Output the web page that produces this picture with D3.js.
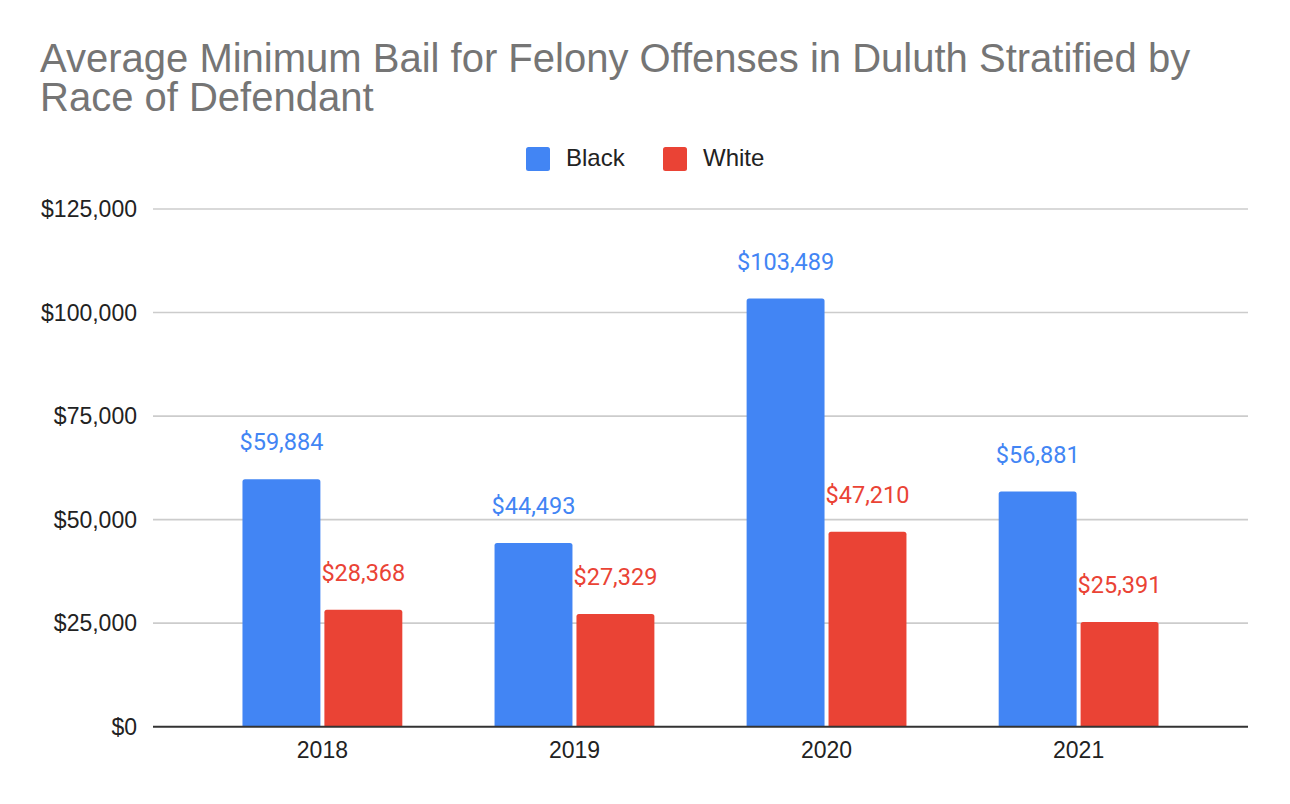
<!DOCTYPE html>
<html>
<head>
<meta charset="utf-8">
<script src="https://cdn.jsdelivr.net/npm/d3@7"></script>
<style>
  body { margin: 0; background: #fff; }
  svg { display: block; }
</style>
</head>
<body>
<svg id="chart" width="1290" height="804"></svg>
<script>
const years = ["2018", "2019", "2020", "2021"];
const series = ["Black", "White"];
const black = [59884, 44493, 103489, 56881];
const white = [28368, 27329, 47210, 25391];
const yTicks = [0, 25000, 50000, 75000, 100000, 125000];
const colors = ["#4285F4", "#EA4335"];
const titleLines = ["Average Minimum Bail for Felony Offenses in Duluth Stratified by", "Race of Defendant"];

const svg = d3.select("#chart");
const plotLeft = 153, plotRight = 1248, plotTop = 209, plotBottom = 726.7;

const x = d3.scaleBand().domain(years).range([plotLeft, plotRight])
  .paddingInner(0.35).paddingOuter(0.347);
const xs = d3.scaleBand().domain(series).range([0, x.bandwidth()]);
const y = d3.scaleLinear().domain([0, 125000]).range([plotBottom, plotTop]);

const fmt = d3.format("$,");

// title
svg.append("g")
  .selectAll("text")
  .data(titleLines)
  .join("text")
  .attr("x", 40)
  .attr("y", (d, i) => 71.7 + i * 39.3)
  .style("font-family", "'Liberation Sans', Arial, sans-serif")
  .style("font-size", "40px")
  .style("fill", "#757575")
  .text(d => d);

// legend
const legend = svg.append("g");
const legendX = [526, 663];
series.forEach((s, i) => {
  legend.append("rect")
    .attr("x", legendX[i]).attr("y", 147)
    .attr("width", 24).attr("height", 24).attr("rx", 2.5)
    .attr("fill", colors[i]);
  legend.append("text")
    .attr("x", legendX[i] + 40).attr("y", 166)
    .style("font-family", "'Liberation Sans', Arial, sans-serif")
    .style("font-size", "24px")
    .style("fill", "#222")
    .text(s);
});

// gridlines + y labels
svg.append("g")
  .selectAll("line")
  .data(yTicks.filter(d => d > 0))
  .join("line")
  .attr("x1", plotLeft).attr("x2", plotRight)
  .attr("y1", d => y(d)).attr("y2", d => y(d))
  .attr("stroke", "#cccccc").attr("stroke-width", 1.6);

svg.append("g")
  .selectAll("text")
  .data(yTicks)
  .join("text")
  .attr("x", 137)
  .attr("y", d => y(d))
  .attr("dy", "0.36em")
  .attr("text-anchor", "end")
  .style("font-family", "'Liberation Sans', Arial, sans-serif")
  .style("font-size", "23px")
  .style("fill", "#222")
  .text(d => fmt(d));

// bars
const rows = years.map((yr, i) => ({ year: yr, values: [black[i], white[i]] }));
const topRound = (x0, y0, w, h, r) =>
  `M${x0},${y0 + h}V${y0 + r}Q${x0},${y0} ${x0 + r},${y0}H${x0 + w - r}Q${x0 + w},${y0} ${x0 + w},${y0 + r}V${y0 + h}Z`;

const groups = svg.append("g")
  .selectAll("g")
  .data(rows)
  .join("g")
  .attr("transform", d => `translate(${x(d.year)},0)`);

groups.selectAll("path")
  .data(d => d.values.map((v, i) => ({ s: series[i], v, i })))
  .join("path")
  .attr("fill", d => colors[d.i])
  .attr("d", d => {
    const x0 = xs(d.s) + 2, w = xs.bandwidth() - 4;
    const y0 = y(d.v) + 0.5;
    return topRound(x0, y0, w, plotBottom - y0, 2.5);
  });

// baseline
svg.append("line")
  .attr("x1", plotLeft).attr("x2", plotRight)
  .attr("y1", plotBottom).attr("y2", plotBottom)
  .attr("stroke", "#333").attr("stroke-width", 2);

// data labels
groups.selectAll("text.val")
  .data(d => d.values.map((v, i) => ({ s: series[i], v, i })))
  .join("text")
  .attr("class", "val")
  .attr("x", d => xs(d.s) + xs.bandwidth() / 2)
  .attr("y", d => y(d.v) - 28.5)
  .attr("text-anchor", "middle")
  .style("font-family", "Roboto, sans-serif")
  .style("font-size", "23.5px")
  .style("fill", d => colors[d.i])
  .style("stroke", "#fff")
  .style("stroke-width", 3)
  .style("stroke-linejoin", "round")
  .style("paint-order", "stroke")
  .text(d => fmt(d.v));

// x labels
svg.append("g")
  .selectAll("text")
  .data(years)
  .join("text")
  .attr("x", d => x(d) + x.bandwidth() / 2)
  .attr("y", 758)
  .attr("text-anchor", "middle")
  .style("font-family", "'Liberation Sans', Arial, sans-serif")
  .style("font-size", "23px")
  .style("fill", "#222")
  .text(d => d);
</script>
</body>
</html>
